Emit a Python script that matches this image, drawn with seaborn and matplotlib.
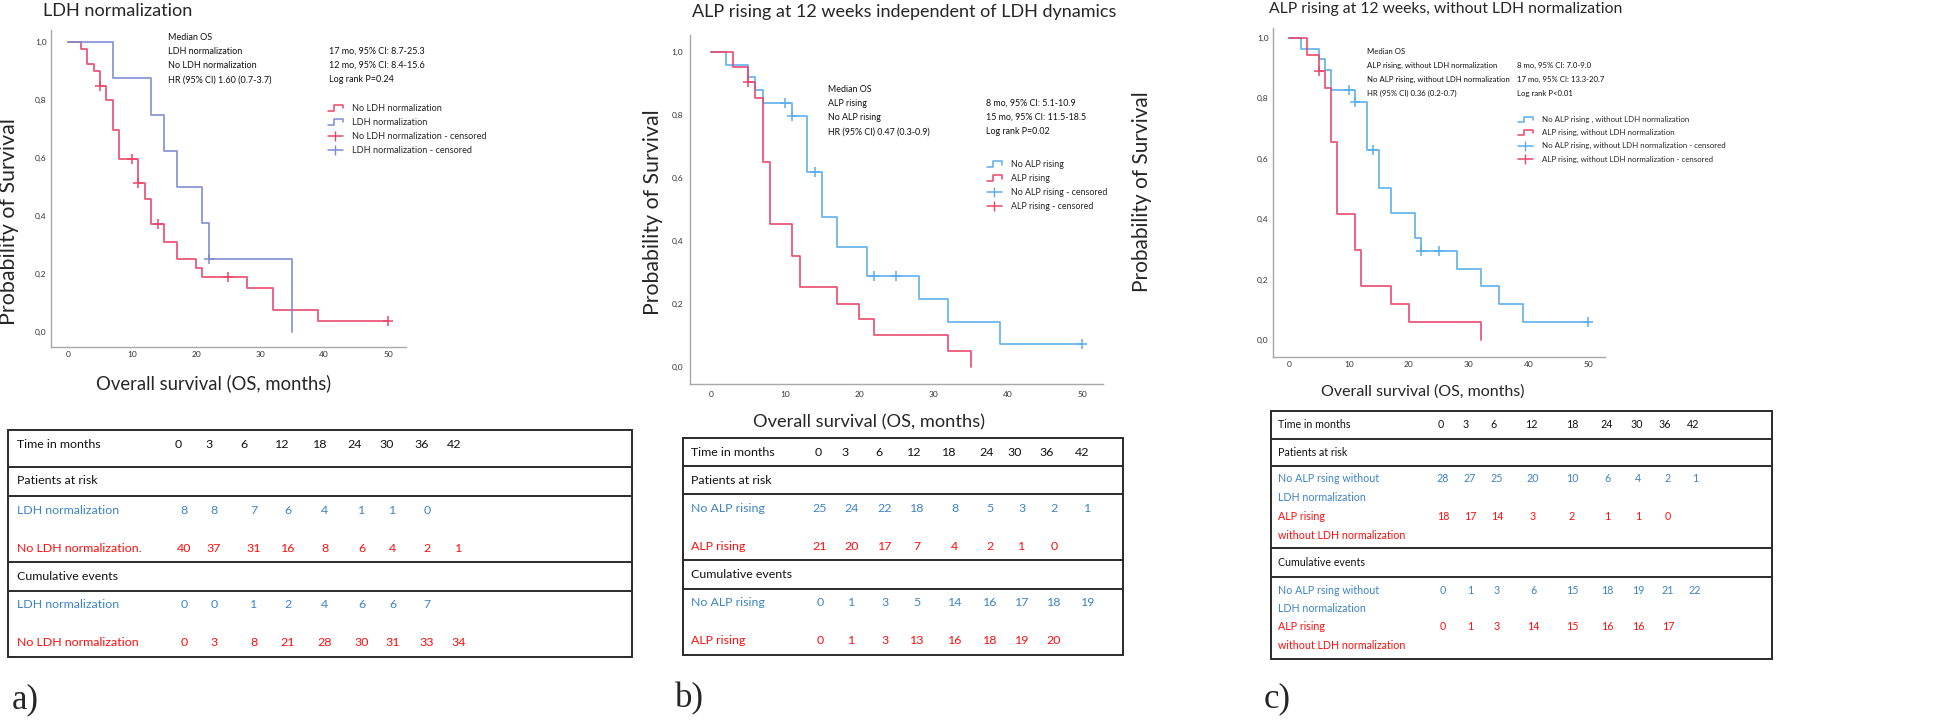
import numpy as np
import pandas as pd
import matplotlib
matplotlib.use("Agg")
import matplotlib.pyplot as plt
from matplotlib.lines import Line2D
from matplotlib.legend_handler import HandlerBase
import seaborn as sns

sns.set_theme(style="white")
plt.rcParams['font.family'] = ['Lato', 'DejaVu Sans']

# ---- colours
RED = '#E8466A'
BLUE_A = '#7D8CD2'
BLUE_B = '#5AAEEB'
T_BLUE = '#3C84C4'
T_RED = '#FF0D0D'

# ---- panel a: LDH normalization
a_noldh_t = [0, 2, 3, 4, 5, 6, 7, 8, 11, 12, 13, 15, 17, 20, 21, 28, 32, 39, 50]
a_noldh_s = [1, 0.975, 0.925, 0.9, 0.85, 0.8, 0.697, 0.595, 0.515, 0.457, 0.372, 0.31,
             0.25, 0.219, 0.188, 0.15, 0.075, 0.038, 0.038]
a_noldh_cens = [5, 10, 11, 14, 25, 50]
a_ldh_t = [0, 7, 13, 15, 17, 21, 22, 35]
a_ldh_s = [1, 0.875, 0.75, 0.625, 0.5, 0.375, 0.25, 0]
a_ldh_cens = [22]

# ---- panel b: ALP rising
b_noalp_t = [0, 2, 5, 6, 7, 11, 13, 15, 17, 21, 28, 32, 39, 50]
b_noalp_s = [1, 0.96, 0.92, 0.88, 0.84, 0.797, 0.62, 0.477, 0.382, 0.287, 0.215, 0.143, 0.072, 0.072]
b_noalp_cens = [10, 11, 14, 22, 25, 50]
b_alp_t = [0, 3, 5, 6, 7, 8, 11, 12, 17, 20, 22, 32, 35]
b_alp_s = [1, 0.952, 0.905, 0.854, 0.652, 0.454, 0.352, 0.252, 0.201, 0.151, 0.101, 0.051, 0]
b_alp_cens = [5]

# ---- panel c: ALP rising without LDH normalization
c_noalp_t = [0, 2, 5, 6, 7, 11, 13, 15, 17, 21, 22, 28, 32, 35, 39, 50]
c_noalp_s = [1, 0.964, 0.929, 0.893, 0.826, 0.786, 0.63, 0.505, 0.421, 0.337, 0.295, 0.237,
             0.179, 0.12, 0.061, 0.061]
c_noalp_cens = [10, 11, 14, 22, 25, 50]
c_alp_t = [0, 3, 5, 6, 7, 8, 11, 12, 17, 20, 32]
c_alp_s = [1, 0.944, 0.889, 0.833, 0.654, 0.417, 0.299, 0.18, 0.12, 0.061, 0]
c_alp_cens = [5]

# ---- risk tables
months = [0, 3, 6, 12, 18, 24, 30, 36, 42]
a_risk_ldh = [8, 8, 7, 6, 4, 1, 1, 0]
a_risk_noldh = [40, 37, 31, 16, 8, 6, 4, 2, 1]
a_ev_ldh = [0, 0, 1, 2, 4, 6, 6, 7]
a_ev_noldh = [0, 3, 8, 21, 28, 30, 31, 33, 34]
b_risk_noalp = [25, 24, 22, 18, 8, 5, 3, 2, 1]
b_risk_alp = [21, 20, 17, 7, 4, 2, 1, 0]
b_ev_noalp = [0, 1, 3, 5, 14, 16, 17, 18, 19]
b_ev_alp = [0, 1, 3, 13, 16, 18, 19, 20]
c_risk_noalp = [28, 27, 25, 20, 10, 6, 4, 2, 1]
c_risk_alp = [18, 17, 14, 3, 2, 1, 1, 0]
c_ev_noalp = [0, 1, 3, 6, 15, 18, 19, 21, 22]
c_ev_alp = [0, 1, 3, 14, 15, 16, 16, 17]

W, H = 1944, 723
fig = plt.figure(figsize=(W / 100, H / 100), dpi=100)
renderer = fig.canvas.get_renderer()


def box(x0, x1, ytop, ybot):
    return [x0 / W, 1 - ybot / H, (x1 - x0) / W, (ybot - ytop) / H]


def fx(x):
    return x / W


def fy(y):
    return 1 - y / H


def fit_size(s, target_w, base=10, **kw):
    # font size that gives the text a width of target_w pixels
    t = fig.text(0, 0, s, fontsize=base, **kw)
    w = t.get_window_extent(renderer).width
    t.remove()
    return base * target_w / w


class StepHandler(HandlerBase):
    def create_artists(self, legend, orig_handle, xdescent, ydescent, width, height, fontsize, trans):
        x0, y0 = -xdescent, -ydescent
        xs = [x0, x0 + 0.4 * width, x0 + 0.4 * width, x0 + width, x0 + width]
        ys = [y0, y0, y0 + height, y0 + height, y0 + 0.4 * height]
        ln = Line2D(xs, ys, color=orig_handle.get_color(), lw=1.1)
        ln.set_transform(trans)
        return [ln]


def km(ax, t, s, cens, color):
    df = pd.DataFrame({'t': t, 's': s})
    sns.lineplot(data=df, x='t', y='s', ax=ax, color=color, drawstyle='steps-post',
                 estimator=None, lw=1.3, alpha=0.9)
    idx = np.searchsorted(np.array(t), np.array(cens), side='right') - 1
    cs = np.array(s)[idx]
    sns.scatterplot(x=cens, y=cs, ax=ax, marker='+', s=45, color=color, linewidth=1.1)


def style_ax(ax, xlim, ylim):
    ax.set_xlim(*xlim)
    ax.set_ylim(*ylim)
    ax.set_xticks([0, 10, 20, 30, 40, 50])
    ax.set_yticks([0, 0.2, 0.4, 0.6, 0.8, 1.0])
    ax.set_yticklabels([f"{v:.1f}".replace('.', ',') for v in [0, 0.2, 0.4, 0.6, 0.8, 1.0]])
    ax.tick_params(length=0, pad=3, labelsize=6, labelcolor='#333333')
    for sp in ['top', 'right']:
        ax.spines[sp].set_visible(False)
    for sp in ['left', 'bottom']:
        ax.spines[sp].set_color('#a8a8a8')
        ax.spines[sp].set_linewidth(1.0)
    ax.set(xlabel='', ylabel='')
    ax.set_facecolor('none')


def add_legend(ax, labels, colors, x, y, target_w):
    fs = fit_size(labels[2], target_w)
    hs = [Line2D([], [], color=colors[0]), Line2D([], [], color=colors[1]),
          Line2D([], [], color=colors[0], marker='|', markersize=7, lw=1.1),
          Line2D([], [], color=colors[1], marker='|', markersize=7, lw=1.1)]
    ax.legend(hs, labels, loc='upper left', bbox_to_anchor=(fx(x), fy(y)),
              bbox_transform=fig.transFigure, frameon=False, borderpad=0, borderaxespad=0,
              fontsize=fs, handlelength=15 / (fs * 1.389), handletextpad=9 / (fs * 1.389),
              labelspacing=(14 - fs * 1.389) / (fs * 1.389),
              handler_map={hs[0]: StepHandler(), hs[1]: StepHandler()})


# ---------- panel a
ax_a = fig.add_axes(box(51, 406, 30, 347))
km(ax_a, a_noldh_t, a_noldh_s, a_noldh_cens, RED)
km(ax_a, a_ldh_t, a_ldh_s, a_ldh_cens, BLUE_A)
style_ax(ax_a, (-2.66, 52.8), (-0.053, 1.042))
add_legend(ax_a, ['No LDH normalization', 'LDH normalization',
                  'No LDH normalization - censored', 'LDH normalization - censored'],
           [RED, BLUE_A], 328, 104, 134)

# ---------- panel b
ax_b = fig.add_axes(box(690, 1103, 35, 384))
km(ax_b, b_noalp_t, b_noalp_s, b_noalp_cens, BLUE_B)
km(ax_b, b_alp_t, b_alp_s, b_alp_cens, RED)
style_ax(ax_b, (-2.79, 52.8), (-0.055, 1.055))
ax_b.tick_params(pad=5)
add_legend(ax_b, ['No ALP rising', 'ALP rising', 'No ALP rising - censored', 'ALP rising - censored'],
           [BLUE_B, RED], 987, 160, 97)

# ---------- panel c
ax_c = fig.add_axes(box(1273, 1605, 28, 357))
km(ax_c, c_noalp_t, c_noalp_s, c_noalp_cens, BLUE_B)
km(ax_c, c_alp_t, c_alp_s, c_alp_cens, RED)
style_ax(ax_c, (-2.72, 52.76), (-0.055, 1.032))
add_legend(ax_c, ['No ALP rising , without LDH normalization', 'ALP rising, without LDH normalization',
                  'No ALP rising, without LDH normalization - censored',
                  'ALP rising, without LDH normalization - censored'],
           [BLUE_B, RED], 1518, 116, 183)

# ---------- overlay in pixel coordinates for text and tables
ov = fig.add_axes([0, 0, 1, 1])
ov.set_xlim(0, W)
ov.set_ylim(H, 0)
ov.axis('off')


def put(x, y, s, target_w, **kw):
    fs = fit_size(s, target_w, rotation=kw.get('rotation', 0))
    ov.text(x, y, s, fontsize=fs, va='center', **kw)


# titles
put(43, 11, 'LDH normalization', 150, ha='left')
put(904, 12, 'ALP rising at 12 weeks independent of LDH dynamics', 425, ha='center')
put(1269, 9, 'ALP rising at 12 weeks, without LDH normalization', 353, ha='left')

# axis labels (rotated: fit on the text length, measured unrotated)
for x, y, L in [(9.5, 222, 207), (653, 212, 205), (1142, 192, 202)]:
    fs = fit_size('Probability of Survival', L)
    ov.text(x, y, 'Probability of Survival', fontsize=fs, rotation=90, va='center', ha='center')
for x, y, L in [(214, 383, 235), (869, 422, 232), (1423, 392, 203)]:
    put(x, y, 'Overall survival (OS, months)', L, ha='center')

# median OS blocks
a_left = ['Median OS', 'LDH normalization', 'No LDH normalization', 'HR (95% CI) 1.60 (0.7-3.7)']
a_right = ['', '17 mo, 95% CI: 8.7-25.3', '12 mo, 95% CI: 8.4-15.6', 'Log rank P=0.24']
b_left = ['Median OS', 'ALP rising', 'No ALP rising', 'HR (95% CI) 0.47 (0.3-0.9)']
b_right = ['', '8 mo, 95% CI: 5.1-10.9', '15 mo, 95% CI: 11.5-18.5', 'Log rank P=0.02']
c_left = ['Median OS', 'ALP rising, without LDH normalization',
          'No ALP rising, without LDH normalization', 'HR (95% CI) 0.36 (0.2-0.7)']
c_right = ['', '8 mo, 95% CI: 7.0-9.0', '17 mo, 95% CI: 13.3-20.7', 'Log rank P<0.01']

for left, right, xl, xr, y0, dy, ref, L in [
        (a_left, a_right, 168, 329, 37, 14.3, a_left[3], 103),
        (b_left, b_right, 828, 986, 89, 14.3, b_left[3], 102),
        (c_left, c_right, 1367, 1517, 52, 13.7, c_left[2], 143)]:
    fs = fit_size(ref, L)
    for i, (l, r) in enumerate(zip(left, right)):
        ov.text(xl, y0 + i * dy, l, fontsize=fs, va='center', ha='left', color='#111111')
        ov.text(xr, y0 + i * dy, r, fontsize=fs, va='center', ha='left', color='#111111')


# tables
def table(x0, x1, ytop, ybot, hl, rows, lab_x, head_x, body_x, lab_w, lab_lines, series, pitch):
    fs = fit_size('Time in months', lab_w)
    ov.add_patch(plt.Rectangle((x0, ytop), x1 - x0, ybot - ytop, fill=False, ec='#2a2a2a', lw=1.4))
    for y in hl:
        ov.plot([x0, x1], [y, y], color='#2a2a2a', lw=1.4)
    ov.text(lab_x, rows[0], 'Time in months', fontsize=fs, va='center', color='#111111')
    for x, m in zip(head_x, months):
        ov.text(x, rows[0], str(m), fontsize=fs, va='center', ha='center', color='#111111')
    ov.text(lab_x, rows[1], 'Patients at risk', fontsize=fs, va='center', color='#111111')
    ov.text(lab_x, rows[4], 'Cumulative events', fontsize=fs, va='center', color='#111111')
    for ri, lab, vals, col in zip([rows[2], rows[3], rows[5], rows[6]], lab_lines, series,
                                  [T_BLUE, T_RED, T_BLUE, T_RED]):
        for k, line in enumerate(lab.split('\n')):
            ov.text(lab_x, ri + k * pitch, line, fontsize=fs, va='center', color=col)
        for x, v in zip(body_x, vals):
            ov.text(x, ri, str(v), fontsize=fs, va='center', ha='center', color=col)


table(8, 632, 430, 657, [467, 496, 562, 591], [444, 481, 510, 548, 577, 605, 643], 17,
      [178, 209, 244, 282, 320, 355, 387, 422, 454],
      [184, 214, 254, 288, 325, 362, 393, 427, 459], 84,
      ['LDH normalization', 'No LDH normalization.', 'LDH normalization', 'No LDH normalization'],
      [a_risk_ldh, a_risk_noldh, a_ev_ldh, a_ev_noldh], 19)

table(683, 1123, 438, 655, [466, 494, 560, 589], [452, 480, 509, 547, 574, 603, 640], 691,
      [818, 845, 879, 914, 949, 987, 1015, 1047, 1082],
      [820, 852, 885, 917, 955, 990, 1022, 1054, 1088], 84,
      ['No ALP rising', 'ALP rising', 'No ALP rising', 'ALP rising'],
      [b_risk_noalp, b_risk_alp, b_ev_noalp, b_ev_alp], 19)

table(1271, 1772, 411, 659, [439, 466, 548, 577], [424, 452, 479, 517, 563, 590, 627], 1278,
      [1441, 1466, 1493, 1531, 1572, 1607, 1637, 1665, 1693],
      [1443, 1470, 1497, 1533, 1572, 1607, 1638, 1668, 1695], 72,
      ['No ALP rsing without\nLDH normalization', 'ALP rising\nwithout LDH normalization',
       'No ALP rsing without\nLDH normalization', 'ALP rising\nwithout LDH normalization'],
      [c_risk_noalp, c_risk_alp, c_ev_noalp, c_ev_alp], 18.5)

# panel letters
for x, y, s in [(25, 700, 'a)'), (689, 699, 'b)'), (1277, 699, 'c)')]:
    ov.text(x, y, s, fontsize=25, family='Liberation Serif', va='center', ha='center')

fig.savefig('out.png', dpi=100, facecolor='white')
